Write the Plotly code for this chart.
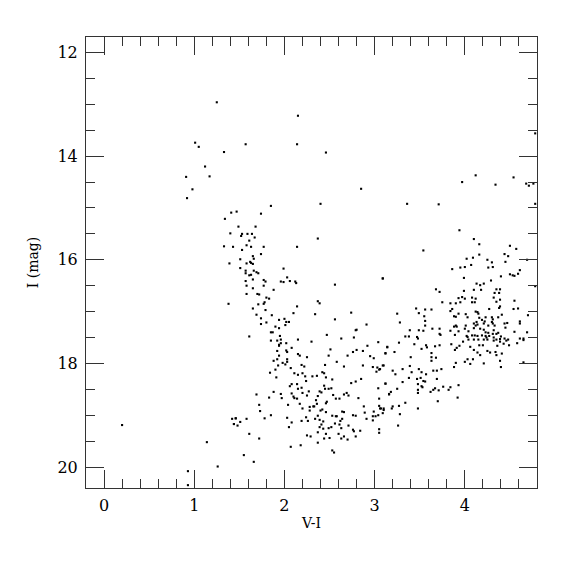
import plotly.graph_objects as go

# Colour index V-I and magnitude I for each star
pts = [
# isolated / bright stars
(0.20,19.19),(1.14,19.52),(1.26,19.99),(0.93,20.08),(0.93,20.35),(1.42,19.07),(1.46,19.06),(1.44,19.17),(1.48,19.20),
(1.25,12.96),(1.01,13.74),(1.05,13.82),(1.33,13.92),(1.12,14.20),(1.17,14.39),(0.91,14.40),(0.98,14.64),(0.92,14.81),
(1.41,15.09),(1.47,15.07),(1.34,15.21),(1.49,15.36),(1.40,15.49),(1.33,15.74),(1.43,15.75),(1.39,16.07),(1.38,16.85),
(2.15,13.22),(1.57,13.77),(2.14,13.77),(2.46,13.93),(2.85,14.63),
(4.78,13.56),(4.12,14.37),(3.97,14.50),(4.54,14.41),(4.34,14.55),(4.68,14.53),(4.71,14.57),(4.76,14.53),
# red clump / giant branch region
(4.78,14.92),(3.36,14.92),(3.71,14.93),(3.94,15.43),(4.10,15.60),(4.16,15.70),(3.54,15.82),(4.50,15.73),(4.57,15.79),
(4.44,15.89),(4.48,15.93),(4.16,15.90),(4.09,15.96),(4.02,15.98),(4.25,16.00),(4.69,16.00),(4.30,16.05),(4.45,16.04),
(3.09,16.36),(3.86,16.18),(3.95,16.15),(4.00,16.14),(4.07,16.10),(4.26,16.15),(4.31,16.14),(4.61,16.20),(4.59,16.27),
(4.50,16.28),(4.53,16.30),(4.55,16.31),(4.40,16.32),(3.99,16.35),(4.29,16.40),(4.13,16.46),(4.17,16.49),(4.21,16.46),
(4.78,16.51),(3.68,16.57),(3.72,16.62),(4.10,16.58),(4.18,16.58),(3.99,16.60),(4.35,16.57),(4.39,16.57),(4.33,16.64),
(4.38,16.64),(3.93,16.74),(3.97,16.72),(4.00,16.75),(4.08,16.73),(4.12,16.75),(4.32,16.73),(4.39,16.77),(4.55,16.79),
(3.75,16.82),(3.84,16.84),(3.90,16.84),(3.95,16.82),(4.08,16.82),(4.11,16.82),(4.35,16.81),(4.39,16.90),(4.38,16.93),
(4.27,16.95),(4.59,16.94),(4.54,16.95),(3.46,16.94),(3.56,16.96),(3.63,16.96),(3.86,16.95),(3.84,16.99),(4.12,17.00),
(4.14,17.01),(3.25,17.04),(3.49,17.03),(3.55,17.09),(3.88,17.09),(3.90,17.10),(3.93,17.04),(4.01,17.05),(4.03,17.11),
(4.15,17.04),(4.16,17.12),(4.23,17.11),(4.30,17.11),(4.31,17.15),(4.37,17.11),(4.41,17.06),(4.70,17.07),(3.28,17.21),
(3.56,17.18),(4.44,17.23),(4.47,17.22),(4.61,17.19),(4.61,17.23),(3.56,17.27),(3.39,17.36),(3.49,17.36),(3.64,17.33),
(3.54,17.37),(3.72,17.33),(3.84,17.37),(3.88,17.29),(3.90,17.27),(3.91,17.29),(3.93,17.38),(4.01,17.27),(4.10,17.23),
(4.12,17.27),(4.13,17.20),(4.14,17.25),(4.19,17.16),(4.22,17.19),(4.21,17.23),(4.26,17.27),(4.30,17.20),(4.31,17.23),
(4.33,17.27),(4.00,17.33),(4.04,17.38),(4.10,17.32),(4.17,17.33),(4.21,17.35),(4.23,17.40),(4.26,17.41),(4.31,17.43),
(4.35,17.43),(4.32,17.36),(4.55,17.39),(4.69,17.40),(4.45,17.31),(3.72,17.43),(3.73,17.45),(3.89,17.45),(4.02,17.47),
(4.14,17.47),(4.23,17.47),(4.65,17.52),(4.40,17.48),(3.34,17.48),(3.38,17.48),(3.47,17.49),
(3.48,17.52),(3.27,17.60),(3.14,17.69),(3.12,17.81),(3.22,17.78),(3.44,17.63),(3.52,17.72),(3.57,17.65),(3.58,17.69),
(3.67,17.67),(3.72,17.65),(3.63,17.80),(3.63,17.88),(3.63,17.95),(3.68,17.89),(3.40,17.88),(3.10,18.04),(3.06,18.11),
(3.39,18.05),(3.49,18.11),(3.20,18.14),(3.23,18.21),(3.31,18.11),(3.41,18.17),(3.52,18.17),(3.57,18.21),(3.65,18.14),
(3.69,18.14),(3.74,18.11),(3.38,18.28),(3.47,18.30),(3.51,18.28),(3.54,18.34),(3.56,18.35),(3.69,18.30),(3.12,18.39),
(3.31,18.36),(3.48,18.40),(3.52,18.44),(3.53,18.46),(3.48,18.51),(3.48,18.57),(3.62,18.55),(3.65,18.51),(3.71,18.52),
(3.67,18.48),(3.76,18.45),(3.82,18.51),(3.84,18.46),(3.93,18.42),(3.25,18.49),(3.18,18.55),(3.16,18.59),(3.70,18.73),
(3.92,18.66),(3.34,18.76),(3.27,18.82),(3.20,18.83),(3.19,18.87),(3.10,18.87),(3.07,18.87),(3.09,18.96),(3.28,18.98),
(3.48,18.87),(3.26,19.20),
(3.85,17.63),(3.89,17.74),(3.91,17.70),(3.94,17.66),(3.98,17.58),(4.03,17.49),(4.08,17.46),(4.11,17.46),(4.19,17.46),
(4.24,17.50),(4.27,17.47),(4.32,17.50),(4.35,17.54),(4.37,17.41),(4.39,17.53),(4.44,17.52),(4.46,17.56),(4.48,17.54),
(4.49,17.65),(4.43,17.62),(4.39,17.58),(4.36,17.66),(4.32,17.56),(4.25,17.54),(4.21,17.54),(4.15,17.54),(4.10,17.54),
(4.04,17.54),(4.16,17.65),(4.20,17.65),(4.06,17.68),(4.10,17.74),(4.17,17.84),(4.25,17.76),(4.28,17.79),(4.34,17.78),
(4.41,17.81),(4.35,17.84),(4.00,17.97),(4.03,17.92),(4.06,18.01),(4.09,17.92),(4.14,17.79),(4.21,18.00),(4.39,17.95),
(4.40,18.07),(4.58,17.61),(4.61,17.52),(4.65,17.55),(4.65,17.98),(3.88,18.07),(3.90,17.99),
# lower main sequence / subgiant region
(1.61,17.48),(1.85,17.40),(1.87,17.40),(1.95,17.47),(1.85,17.56),(1.92,17.56),(1.96,17.54),(1.94,17.64),(1.96,17.61),
(1.94,17.66),(2.02,17.61),(2.08,17.70),(2.02,17.75),(2.03,17.78),(2.15,17.54),(2.30,17.58),(2.47,17.45),(2.63,17.52),
(2.77,17.50),(2.79,17.36),(1.92,17.76),(1.94,17.85),(1.92,17.92),(1.93,18.04),(1.88,17.95),(1.98,17.99),(2.01,18.02),
(2.03,17.97),(2.03,17.92),(2.07,18.09),(1.90,18.12),(1.84,18.18),(1.91,18.27),(2.11,18.19),(2.15,17.82),(2.17,17.85),
(2.25,17.88),(2.19,18.03),(2.22,18.06),(2.15,18.22),(2.20,18.19),(2.23,18.25),(2.24,18.34),(2.31,18.25),(2.36,18.24),
(2.42,18.17),(2.44,18.19),(2.46,18.27),(2.51,17.73),(2.49,17.85),(2.45,18.03),(2.58,17.97),(2.66,18.06),(2.53,18.31),
(2.70,17.85),(2.76,17.78),(2.80,17.74),(2.87,17.76),(2.92,17.66),(2.95,17.86),(2.99,17.90),(3.04,17.59),(3.12,17.80),
(3.14,17.68),(3.09,18.04),(3.03,18.08),(2.98,18.07),(3.05,18.12),(3.02,18.16),(2.87,18.04),(2.79,18.35),(2.85,18.30),
(2.74,18.38),(2.71,18.62),(2.66,18.60),(2.69,18.57),(2.82,18.67),(2.61,18.68),(2.57,18.68),(2.54,18.61),(2.49,18.49),
(2.52,18.48),(2.45,18.49),(2.44,18.43),(2.39,18.54),(2.41,18.56),(2.37,18.63),(2.35,18.71),(2.36,18.78),(2.32,18.83),
(2.40,18.91),(2.42,18.89),(2.46,18.77),(2.47,18.74),(2.46,18.94),(2.53,19.01),(2.57,19.02),(2.64,18.93),(2.66,18.94),
(2.76,19.00),(2.79,19.01),(2.88,18.83),(2.89,18.95),(2.91,19.07),(2.98,19.02),(2.99,18.93),(2.98,19.10),(3.05,18.82),
(3.06,18.87),(3.10,18.90),(3.05,18.68),(3.04,18.48),(3.12,18.39),(3.16,18.60),(3.04,19.00),(3.01,19.02),(3.05,19.27),
(3.05,19.34),(2.08,18.40),(2.06,18.44),(2.14,18.40),(2.19,18.47),(2.15,18.49),(2.20,18.57),(2.25,18.62),(2.27,18.54),
(2.14,18.68),(2.08,18.58),(2.10,18.64),(2.11,18.67),(1.96,18.59),(1.97,18.67),(1.88,18.55),(1.83,18.66),(1.69,18.60),
(2.04,18.80),(2.17,18.78),(2.20,18.87),(2.28,18.84),(2.33,18.83),(2.28,18.91),(2.19,19.11),(2.26,19.11),(2.24,19.04),
(2.34,19.07),(2.37,19.01),(2.39,19.09),(2.43,19.12),(2.41,19.18),(2.39,19.23),(2.43,19.26),(2.49,19.25),(2.52,19.23),
(2.56,19.16),(2.58,19.02),(2.62,19.11),(2.64,19.07),(2.61,19.18),(2.63,19.25),(2.71,19.20),(2.76,19.28),(2.77,19.31),
(2.84,19.30),(2.79,19.41),(2.70,19.47),(2.66,19.41),(2.63,19.45),(2.60,19.36),(2.50,19.44),(2.46,19.36),(2.37,19.33),
(2.37,19.53),(2.44,19.45),(2.29,19.41),(2.25,19.39),(2.08,19.14),(2.03,19.05),(2.05,19.23),(2.07,19.61),(2.18,19.58),
(2.53,19.68),(2.55,19.72),(1.72,18.80),(1.73,18.92),(1.78,19.06),(1.85,19.00),(1.58,19.07),(1.46,19.06),(1.44,19.17),
(1.51,19.13),(1.61,19.36),(1.72,19.45),(1.55,19.77),(1.66,19.90),
# turnoff branch
(1.85,14.96),(2.40,14.92),(1.74,15.11),(1.68,15.36),(1.53,15.50),(1.52,15.54),(1.59,15.50),(1.64,15.50),(1.61,15.63),
(1.67,15.57),(1.53,15.81),(1.58,15.72),(1.63,15.75),(1.77,15.75),(1.74,15.89),(1.65,15.93),(1.66,15.98),(1.51,15.99),
(1.62,16.04),(1.63,16.06),(1.65,16.08),(1.58,16.07),(1.51,16.16),(1.57,16.21),(1.57,16.26),(1.66,16.21),(1.69,16.24),
(1.71,16.26),(1.61,16.30),(1.63,16.29),(1.65,16.38),(1.57,16.41),(1.58,16.50),(1.65,16.55),(1.58,16.66),(1.70,16.66),
(1.72,16.67),(1.77,16.39),(1.79,16.42),(1.77,16.50),(1.88,16.58),(1.80,16.73),(1.83,16.75),(1.78,16.82),(1.77,16.85),
(1.71,16.86),(1.65,16.94),(1.69,17.06),(1.74,17.13),(1.79,16.97),(1.74,17.24),(1.80,17.21),(1.86,17.07),
(1.90,17.29),(1.94,17.16),(1.94,17.32),(2.00,17.14),(2.02,17.20),(2.01,17.26),(2.05,17.20),
(1.99,16.17),(2.03,16.34),(1.96,16.42),(1.99,16.43),(2.06,16.41),(2.12,16.42),(2.13,16.45),(2.14,15.75),(2.37,15.59),
(2.14,16.90),(2.10,17.03),(2.56,16.48),(2.37,16.80),(2.39,16.84),(2.34,17.05),(2.56,17.15),(2.74,17.02),(2.91,17.25),
(2.80,17.35),(3.09,16.36),
]

v_i = [p[0] for p in pts]
i_mag = [p[1] for p in pts]

x_ticks = [0, 1, 2, 3, 4]
y_ticks = [12, 14, 16, 18, 20]

FONT = "DejaVu Serif"

fig = go.Figure(go.Scatter(
    x=v_i, y=i_mag, mode="markers",
    marker=dict(symbol="square", size=2.1, color="black", line=dict(width=0)),
    hoverinfo="skip",
))

axis_common = dict(
    showline=True, linecolor="#333", linewidth=1, mirror="allticks",
    ticks="inside", ticklen=18, tickwidth=1, tickcolor="#333",
    showgrid=False, zeroline=False,
    tickfont=dict(family=FONT, size=16, color="black"),
)

# page body adds an 8px offset, so margins are reduced by 8 on left/top
fig.update_layout(
    width=575, height=575, autosize=False,
    margin=dict(l=78, r=46, t=29, b=95),
    paper_bgcolor="white", plot_bgcolor="white",
    showlegend=False,
    xaxis=dict(
        range=[-0.2, 4.8], tickvals=x_ticks, ticktext=[str(v) for v in x_ticks],
        minor=dict(dtick=0.2, tick0=0, ticks="inside", ticklen=9, tickcolor="#333", tickwidth=1),
        title=dict(text="V-I", font=dict(family=FONT, size=14, color="black"), standoff=3),
        ticklabelstandoff=3,
        **axis_common,
    ),
    yaxis=dict(
        range=[20.405, 11.70], tickvals=y_ticks, ticktext=[str(v) for v in y_ticks],
        minor=dict(dtick=0.5, tick0=0, ticks="inside", ticklen=9, tickcolor="#333", tickwidth=1),
        title=dict(text="I (mag)", font=dict(family=FONT, size=14, color="black"), standoff=15),
        ticklabelstandoff=4,
        **axis_common,
    ),
)

fig.write_html("out.html")
